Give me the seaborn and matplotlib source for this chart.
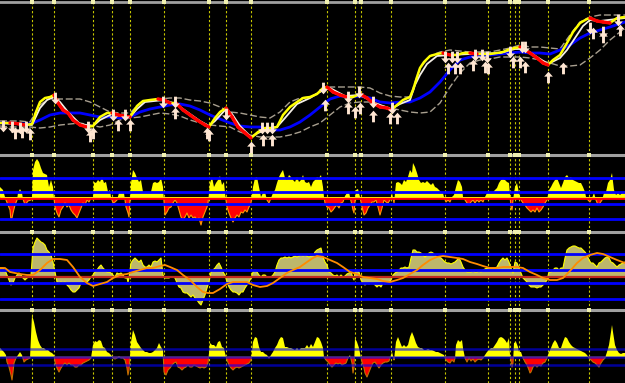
import numpy as np
import pandas as pd
import matplotlib
matplotlib.use("Agg")
import matplotlib.pyplot as plt
from matplotlib.path import Path
import seaborn as sns

sns.set_theme(style="dark", rc={"axes.facecolor": "black", "figure.facecolor": "black",
                                "axes.grid": False})

# ---------------- data ----------------
signal_x = [32, 54, 93, 112, 130, 164, 209, 226, 251, 327, 355, 361, 391, 445, 488, 510, 515, 519, 548, 589]

fast_x = [0, 10, 20, 25, 32, 36, 40, 45, 50, 54,
          58, 63, 68, 73, 80, 87, 93, 100, 107, 112,
          118, 125, 130, 137, 143, 150, 158, 164, 170, 176,
          183, 190, 197, 205, 209, 215, 220, 226, 232, 238,
          245, 251, 258, 265, 272, 277, 283, 290, 297, 303,
          310, 317, 323, 327, 333, 340, 347, 353, 360, 367,
          373, 380, 387, 391, 397, 403, 410, 413, 417, 420,
          424, 430, 437, 443, 450, 457, 463, 470, 477, 483,
          490, 497, 503, 510, 515, 520, 525, 530, 537, 543,
          548, 553, 560, 567, 573, 580, 587, 590, 597, 603,
          610, 617, 625]
fast_v = [32, 32, 31, 30, 31, 43, 53, 57, 58, 60,
          52, 45, 42, 35, 30, 28, 29, 38, 42, 42,
          40, 39, 38, 49, 54, 55, 56, 55, 52, 52,
          45, 40, 35, 30, 28, 37, 43, 47, 38, 28,
          22, 17, 23, 27, 27, 28, 40, 48, 53, 57,
          58, 61, 67, 68, 63, 60, 58, 58, 61, 57,
          52, 48, 47, 45, 50, 55, 58, 65, 78, 87,
          93, 99, 101, 102, 100, 100, 102, 102, 101, 101,
          101, 102, 103, 106, 107, 108, 105, 102, 97, 92,
          90, 95, 100, 112, 123, 132, 136, 137, 134, 133,
          132, 137, 138]

slow_x = [0, 32, 40, 47, 54, 60, 68, 80, 93, 100,
          112, 130, 137, 145, 164, 176, 190, 200, 209, 215,
          226, 232, 240, 251, 258, 270, 277, 285, 297, 310,
          323, 330, 345, 360, 375, 391, 400, 410, 415, 420,
          427, 437, 450, 470, 500, 515, 525, 537, 548, 560,
          567, 575, 583, 590, 600, 625]
slow_v = [32, 30, 47, 55, 58, 53, 43, 31, 29, 35,
          41, 38, 46, 53, 55, 51, 41, 34, 29, 34,
          46, 41, 29, 18, 22, 27, 28, 37, 51, 57,
          65, 67, 59, 60, 52, 46, 51, 55, 70, 80,
          91, 99, 100, 101, 102, 106, 106, 98, 91, 97,
          105, 117, 129, 135, 134, 137]

ma_x = list(range(0, 620, 10)) + [625]
ma_v = [32, 32, 31, 31, 35, 40, 42, 42, 42, 40,
        38, 38, 37, 38, 43, 46, 48, 50, 51, 49,
        45, 40, 36, 32, 29, 28, 28, 25, 25, 28,
        33, 40, 48, 56, 59, 58, 59, 57, 53, 52,
        53, 53, 57, 63, 73, 85, 95, 98, 99, 100,
        101, 102, 103, 102, 102, 101, 105, 110, 117, 122,
        125, 128, 133]
upper_v = [34, 34, 34, 33, 50, 57, 56, 56, 56, 53,
           48, 43, 42, 42, 52, 55, 56, 57, 57, 55,
           54, 52, 48, 43, 42, 40, 38, 37, 43, 53,
           57, 58, 63, 68, 68, 68, 68, 67, 62, 59,
           58, 58, 87, 99, 103, 105, 104, 103, 103, 103,
           105, 107, 110, 108, 108, 107, 106, 120, 133, 138,
           140, 140, 140]
lower_v = [29, 28, 28, 28, 27, 28, 30, 31, 32, 30,
           28, 30, 35, 37, 38, 40, 42, 41, 39, 35,
           32, 30, 29, 28, 23, 20, 18, 18, 18, 20,
           23, 28, 32, 40, 48, 52, 53, 53, 50, 47,
           45, 43, 42, 43, 52, 68, 82, 92, 95, 96,
           98, 98, 98, 97, 95, 92, 89, 89, 90, 97,
           105, 115, 127]

down_x = [3, 12, 20, 26, 55, 88, 113, 125, 163, 175, 226, 262, 267, 272, 323, 348, 359, 373, 392, 445,
          452, 457, 475, 482, 487, 510, 522, 525, 590, 603, 618]
down_v = [29, 28, 27, 28, 57, 28, 40, 40, 53, 53, 41, 27, 27, 27, 67, 58, 63, 53, 47, 98,
          98, 98, 100, 100, 98, 103, 108, 108, 127, 123, 135]
up_x = [15, 22, 30, 90, 93, 118, 130, 175, 207, 209, 251, 263, 272, 325, 348, 355, 360, 373, 390, 397,
        448, 455, 460, 473, 485, 488, 513, 520, 525, 548, 563, 593, 603, 620]
up_v = [22, 23, 21, 19, 22, 30, 30, 42, 22, 20, 8, 15, 15, 50, 47, 43, 47, 39, 37, 37,
        87, 87, 87, 90, 88, 87, 93, 93, 88, 78, 87, 122, 118, 125]

# oscillator 1 (histogram)
osc1_x = [0, 3, 5, 6, 8, 10, 11, 12, 13, 15,
          17, 18, 20, 22, 23, 25, 28, 31, 32, 33,
          35, 37, 39, 41, 43, 45, 47, 49, 51, 53,
          54, 55, 57, 59, 61, 63, 65, 67, 69, 71,
          73, 75, 77, 79, 81, 83, 85, 87, 89, 91,
          93, 94, 96, 98, 100, 102, 104, 106, 108, 110,
          111, 113, 115, 117, 119, 122, 124, 126, 128, 129,
          131, 133, 135, 137, 139, 141, 143, 145, 147, 149,
          151, 153, 155, 157, 159, 161, 163, 165, 167, 169,
          171, 173, 175, 177, 179, 181, 183, 185, 187, 189,
          191, 193, 195, 197, 199, 201, 203, 205, 207, 208,
          210, 212, 214, 216, 218, 220, 222, 224, 225, 227,
          229, 231, 233, 235, 237, 239, 241, 243, 245, 247,
          249, 251, 253, 255, 257, 259, 261, 263, 265, 267,
          269, 271, 273, 275, 277, 279, 281, 283, 285, 287,
          289, 291, 293, 295, 297, 299, 301, 303, 305, 307,
          309, 311, 313, 315, 317, 319, 321, 323, 324, 325,
          327, 329, 331, 333, 335, 337, 339, 341, 343, 345,
          347, 349, 350, 352, 353, 354, 356, 358, 360, 362,
          364, 366, 368, 370, 372, 374, 376, 378, 380, 382,
          384, 386, 388, 390, 392, 394, 396, 398, 400, 402,
          404, 406, 408, 410, 412, 413, 415, 417, 419, 421,
          423, 425, 427, 429, 431, 433, 435, 437, 439, 441,
          443, 444, 446, 448, 450, 452, 454, 456, 458, 460,
          462, 463, 465, 467, 469, 471, 473, 475, 477, 479,
          481, 483, 485, 487, 489, 491, 493, 495, 497, 499,
          501, 503, 505, 507, 509, 511, 512, 513, 515, 517,
          519, 521, 523, 525, 527, 529, 531, 533, 535, 537,
          539, 541, 543, 545, 547, 549, 551, 553, 555, 557,
          559, 561, 563, 565, 567, 569, 571, 573, 575, 577,
          579, 581, 583, 585, 586, 588, 590, 592, 594, 596,
          598, 600, 602, 604, 606, 608, 610, 612, 614, 616,
          618, 620, 622, 625]
osc1_v = [11, 8, 1, -2, -7, -12, -22, -20, -15, -7,
          -2, 5, 9, 5, -1, -7, -3, -2, 0, 28,
          36, 39, 36, 30, 25, 24, 23, 11, 18, 11,
          0, -9, -15, -19, -12, -9, -5, -9, -7, -12,
          -15, -17, -20, -15, -10, -5, -7, -2, -4, 0,
          -1, 16, 15, 18, 16, 21, 15, 16, 6, 8,
          1, -5, -4, -2, 5, 5, 5, -9, -15, -19,
          15, 28, 25, 20, 16, 18, 6, 5, 5, 5,
          6, 15, 16, 15, 16, 20, 11, -17, -14, -10,
          -9, -5, -2, -5, -12, -19, -22, -19, -15, -20,
          -17, -20, -19, -22, -20, -27, -19, -14, -9, -5,
          15, 21, 11, 15, 18, 22, 13, 16, 5, -9,
          -15, -20, -24, -20, -17, -19, -14, -15, -12, -14,
          -9, -5, 11, 20, 21, 11, 1, 5, 6, -2,
          -5, 0, 5, 8, 15, 21, 25, 28, 20, 18,
          23, 21, 18, 16, 21, 16, 18, 23, 16, 15,
          16, 11, 16, 18, 21, 20, 23, 11, 1, -5,
          -9, -10, -14, -12, -9, -7, -10, -5, -4, 2,
          5, 6, 1, -7, -12, -15, 8, 9, 1, -9,
          -17, -15, -10, -7, -4, -4, -2, -9, -17, -10,
          -2, -4, -5, -2, 5, -5, 15, 16, 15, 13,
          18, 16, 21, 28, 25, 35, 31, 25, 18, 15,
          16, 15, 17, 15, 13, 15, 11, 10, 8, 6,
          5, 1, -4, -2, -4, 1, 3, 11, 18, 16,
          11, 1, -2, -5, -7, -4, -2, -5, -2, -4,
          -2, -4, 1, 5, 5, 6, 6, 8, 10, 15,
          18, 19, 18, 16, 15, -9, -12, -2, 11, 15,
          5, -2, -5, -7, -10, -12, -14, -12, -14, -10,
          -14, -12, -9, -5, -2, 8, 11, 15, 18, 20,
          15, 10, 15, 21, 23, 20, 21, 18, 17, 16,
          15, 15, 11, 6, 1, -2, -4, 0, 5, -2,
          -7, -5, -2, 5, 6, 15, 18, 25, 8, 3,
          5, 3, 5, 5]
osc1_levels = [20.5, 5.6, -5.7, -20.7]

# oscillator 2 (area + signal)
osc2_x = [0, 3, 5, 7, 9, 11, 13, 15, 17, 19,
          21, 23, 25, 27, 29, 31, 33, 35, 37, 39,
          41, 43, 45, 47, 49, 51, 53, 55, 57, 59,
          61, 63, 65, 67, 69, 71, 73, 75, 77, 79,
          81, 83, 85, 87, 89, 91, 93, 95, 97, 99,
          101, 103, 105, 107, 109, 111, 113, 115, 117, 119,
          121, 123, 125, 127, 128, 129, 131, 133, 135, 137,
          139, 141, 143, 145, 147, 149, 151, 153, 155, 157,
          159, 161, 163, 165, 167, 169, 171, 173, 175, 177,
          179, 181, 183, 185, 187, 189, 191, 193, 195, 197,
          199, 201, 203, 205, 207, 209, 211, 213, 215, 217,
          219, 221, 223, 225, 227, 229, 231, 233, 235, 237,
          239, 241, 243, 245, 247, 249, 251, 253, 255, 257,
          259, 261, 263, 265, 267, 269, 271, 273, 275, 277,
          279, 281, 283, 285, 287, 289, 291, 293, 295, 297,
          299, 301, 303, 305, 307, 309, 311, 313, 315, 317,
          319, 321, 323, 325, 327, 329, 331, 333, 335, 337,
          339, 341, 343, 345, 347, 349, 351, 353, 354, 355,
          357, 359, 361, 363, 365, 367, 369, 371, 373, 375,
          377, 379, 381, 383, 385, 387, 389, 391, 393, 395,
          397, 399, 401, 403, 405, 407, 409, 411, 413, 415,
          417, 419, 421, 423, 425, 427, 429, 431, 433, 435,
          437, 439, 441, 443, 445, 447, 449, 451, 453, 455,
          457, 459, 461, 463, 465, 467, 469, 471, 473, 475,
          477, 479, 481, 483, 485, 487, 489, 491, 493, 495,
          497, 499, 501, 503, 505, 507, 509, 511, 513, 515,
          517, 519, 521, 523, 525, 527, 529, 531, 533, 535,
          537, 539, 541, 543, 545, 547, 549, 551, 553, 555,
          557, 559, 561, 563, 565, 567, 569, 571, 573, 575,
          577, 579, 581, 583, 585, 587, 589, 591, 593, 595,
          597, 599, 601, 603, 605, 607, 609, 611, 613, 615,
          617, 619, 621, 623, 625]
osc2_v = [9, 9, 7, 2, -3, -8, -6, -1, 2, 4,
          2, -1, -3, -1, 0, 2, 29, 35, 39, 37,
          35, 34, 32, 27, 25, 22, 15, 5, -5, -6,
          -5, -6, -5, -8, -10, -13, -15, -15, -13, -11,
          -6, -5, -6, -5, -3, 0, 2, 5, 7, 10,
          12, 9, 7, 5, 5, 4, 2, 0, 4, 3,
          4, 2, -1, -1, -5, -1, 14, 17, 19, 17,
          15, 17, 12, 10, 10, 12, 10, 15, 16, 15,
          17, 19, 2, -1, -1, -1, 0, 0, -1, -6,
          -10, -11, -15, -16, -16, -18, -20, -18, -21, -23,
          -26, -28, -23, -18, -11, -5, 5, 7, 9, 12,
          14, 10, 5, 2, -5, -10, -13, -15, -15, -16,
          -18, -15, -15, -11, -8, -5, -1, 5, 7, 5,
          2, 0, 2, 2, 0, 0, 0, 2, 5, 12,
          17, 19, 19, 20, 19, 20, 19, 20, 21, 20,
          21, 22, 21, 22, 21, 20, 21, 21, 25, 27,
          28, 29, 20, 15, 12, 5, 4, 2, 1, 2,
          0, 2, 0, 1, 3, 4, 5, -1, -3, 5,
          7, 5, -3, -6, -8, -6, -7, -6, -6, -8,
          -10, -8, -10, -6, -7, -6, -5, -3, 2, 4,
          5, 7, 9, 9, 10, 9, 10, 19, 27, 27,
          25, 25, 24, 22, 20, 22, 24, 25, 24, 22,
          20, 20, 19, 17, 15, 14, 14, 13, 14, 15,
          17, 19, 15, 10, 7, 5, 5, 5, 6, 5,
          5, 6, 5, 7, 8, 9, 9, 9, 9, 9,
          10, 14, 17, 19, 17, 19, 15, 9, 4, 15,
          14, 9, 4, -1, -3, -5, -8, -10, -10, -10,
          -11, -10, -10, -8, -6, -3, 5, 5, 7, 9,
          9, 7, 9, 9, 19, 27, 29, 30, 31, 31,
          30, 29, 29, 27, 25, 22, 17, 14, 14, 12,
          10, 14, 15, 17, 19, 20, 19, 15, 14, 12,
          10, 12, 13, 14, 15]
sig_x = [0, 5, 10, 15, 20, 27, 33, 40, 47, 53,
         60, 67, 73, 80, 87, 93, 100, 107, 113, 120,
         127, 133, 140, 147, 153, 160, 165, 170, 177, 183,
         190, 197, 203, 208, 213, 220, 227, 233, 240, 247,
         253, 260, 267, 273, 280, 287, 293, 300, 307, 313,
         317, 323, 330, 337, 343, 350, 357, 363, 370, 377,
         383, 390, 397, 403, 410, 417, 423, 430, 437, 443,
         450, 457, 463, 470, 477, 483, 490, 497, 503, 510,
         517, 523, 530, 537, 543, 550, 557, 563, 570, 577,
         583, 590, 597, 603, 610, 617, 625]
sig_v = [9, 9, 5, 4, 3, 2, 2, 7, 14, 18,
         18, 17, 10, 0, -6, -9, -7, -5, -1, 2,
         3, 5, 7, 9, 9, 11, 12, 10, 7, 2,
         -3, -10, -15, -16, -16, -12, -7, -5, -5, -5,
         -8, -10, -9, -6, -1, 4, 7, 10, 15, 19,
         21, 20, 17, 14, 10, 5, 3, 0, -1, -2,
         -4, -5, -3, -1, 3, 7, 12, 17, 20, 21,
         20, 19, 18, 15, 13, 11, 9, 9, 10, 10,
         10, 9, 5, 2, -1, -3, -3, -1, 6, 14,
         19, 22, 24, 23, 20, 17, 14]
osc2_levels = [23.3, 7.3, -5.7, -21.7]

# oscillator 3 (histogram)
osc3_x = [0, 2, 4, 6, 7, 9, 11, 12, 13, 14,
          16, 18, 20, 22, 24, 26, 28, 30, 32, 34,
          36, 38, 40, 42, 44, 46, 48, 50, 52, 54,
          55, 57, 59, 61, 63, 65, 67, 69, 71, 73,
          75, 77, 79, 81, 83, 85, 87, 89, 91, 93,
          95, 97, 99, 101, 103, 105, 107, 109, 111, 113,
          115, 117, 119, 121, 123, 125, 127, 128, 129, 131,
          133, 135, 137, 139, 141, 143, 145, 147, 149, 151,
          153, 155, 157, 159, 161, 163, 164, 166, 168, 170,
          172, 174, 176, 178, 180, 182, 184, 186, 188, 190,
          192, 194, 196, 198, 200, 202, 204, 206, 208, 210,
          212, 214, 216, 218, 220, 222, 224, 225, 227, 229,
          231, 233, 235, 237, 239, 241, 243, 245, 247, 249,
          251, 253, 255, 257, 259, 261, 263, 265, 267, 269,
          271, 273, 275, 277, 279, 281, 283, 285, 287, 289,
          291, 293, 295, 297, 299, 301, 303, 305, 307, 309,
          311, 313, 315, 317, 319, 321, 323, 324, 326, 328,
          330, 332, 334, 336, 338, 340, 342, 344, 346, 348,
          350, 352, 353, 354, 355, 357, 359, 360, 362, 364,
          365, 367, 369, 371, 373, 375, 377, 379, 381, 383,
          385, 387, 389, 390, 392, 394, 396, 398, 400, 402,
          404, 406, 408, 410, 412, 414, 416, 418, 420, 422,
          424, 426, 428, 430, 432, 434, 436, 438, 440, 442,
          444, 446, 448, 450, 452, 454, 455, 456, 458, 460,
          462, 463, 465, 467, 469, 471, 473, 475, 477, 479,
          481, 483, 485, 487, 489, 491, 493, 495, 497, 499,
          501, 503, 505, 507, 509, 510, 511, 512, 513, 514,
          516, 518, 519, 521, 522, 523, 525, 527, 529, 530,
          531, 533, 535, 537, 539, 541, 543, 545, 547, 549,
          551, 553, 555, 557, 559, 561, 563, 565, 567, 569,
          571, 573, 575, 577, 579, 581, 583, 585, 587, 589,
          591, 593, 595, 597, 599, 601, 603, 605, 607, 609,
          611, 612, 613, 615, 617, 619, 621, 623, 625]
osc3_v = [9, 7, 5, 2, -5, -10, -18, -23, -15, -6,
          -1, 2, 5, 2, -5, -3, -2, -1, 42, 35,
          25, 17, 12, 9, 9, 7, 7, 5, 4, 2,
          -5, -11, -15, -11, -8, -6, -8, -6, -8, -8,
          -10, -10, -8, -8, -6, -5, -4, -3, -1, 12,
          16, 15, 17, 16, 10, 9, 5, 4, 2, -1,
          -2, -1, 0, -1, -1, -3, -11, -18, -13, 15,
          27, 22, 15, 12, 9, 7, 5, 5, 4, 4,
          5, 7, 9, 14, 10, 7, -15, -18, -13, -11,
          -8, -6, -5, -10, -11, -13, -11, -10, -8, -10,
          -10, -8, -9, -10, -11, -10, -11, -10, -6, 14,
          12, 12, 10, 15, 16, 10, 9, 4, -3, -8,
          -11, -13, -11, -10, -11, -10, -9, -8, -7, -6,
          -3, 15, 20, 19, 10, 5, 5, 3, 2, -1,
          2, 5, 9, 12, 17, 20, 19, 10, 10, 9,
          9, 8, 7, 9, 7, 9, 9, 9, 12, 9,
          13, 10, 15, 20, 19, 15, 9, 0, -3, -5,
          -8, -10, -8, -6, -7, -6, -8, -7, -6, -1,
          2, -6, -16, -11, 19, 15, 9, 4, -5, -11,
          -16, -20, -15, -10, -6, -5, -8, -11, -8, -6,
          -5, -5, -4, -1, 5, -3, 15, 20, 15, 10,
          12, 10, 12, 20, 25, 20, 14, 10, 9, 9,
          7, 7, 8, 7, 7, 6, 5, 5, 4, 3,
          2, -3, -5, -6, -3, -5, -1, 12, 17, 15,
          17, 9, -1, -5, -1, -4, -2, -5, -3, -2,
          -3, -1, 2, 5, 7, 9, 9, 12, 15, 19,
          20, 19, 17, 14, 19, 2, -3, -10, -6, 14,
          15, 10, 5, 5, 2, -1, -5, -8, -13, -16,
          -15, -10, -8, -10, -8, -9, -6, -5, -1, 5,
          9, 14, 17, 14, 9, 9, 15, 20, 19, 15,
          12, 10, 9, 8, 7, 6, 5, 4, 2, -1,
          -3, -5, -6, -8, -10, -6, -3, -1, 5, 12,
          25, 32, 25, 12, 7, 4, 3, 4, 4]
osc3_levels = [8.3, 0, -8.0]

# ---------------- figure ----------------
W, H = 625, 383
fig = plt.figure(figsize=(6.25, 3.83), dpi=100)
fig.patch.set_facecolor("black")


def add_panel(top, bottom, ylim, spine_lw=2.2):
    ax = fig.add_axes([0, (H - bottom) / H, 1, (bottom - top) / H])
    ax.set_facecolor("black")
    ax.set_xlim(0, 625)
    ax.set_ylim(*ylim)
    ax.set_xticks([])
    ax.set_yticks([])
    for s in ["left", "right", "bottom"]:
        ax.spines[s].set_visible(False)
    ax.spines["top"].set_color("#A0A0A0")
    ax.spines["top"].set_linewidth(spine_lw)
    ax.spines["top"].set_zorder(20)
    for sx in signal_x:
        ax.axvline(sx, color="#C8C800", lw=0.8, ls=(0, (2, 2)), zorder=0.5)
    # small markers where the signal lines meet the panel top
    ax.scatter(signal_x, [ylim[1]] * len(signal_x), marker="s", s=5,
               color="#F0F0B0", linewidths=0, clip_on=False, zorder=21)
    return ax


ax1 = add_panel(1.5, 155, (0, 153.5), spine_lw=2.0)
ax2 = add_panel(155, 232, (-34, 43))
ax3 = add_panel(232, 309.5, (-32.5, 45))
ax4 = add_panel(309.5, 383, (-26, 47.5))

# ---- panel 1: price ----
env = pd.DataFrame({"x": ma_x, "ma": ma_v, "up": upper_v, "lo": lower_v})
for col in ["up", "lo"]:
    sns.lineplot(data=env, x="x", y=col, ax=ax1, color="#A89F8F", lw=1.0,
                 estimator=None, sort=False, zorder=2)
    ax1.lines[-1].set_dashes([5, 2])
sns.lineplot(data=env, x="x", y="ma", ax=ax1, color="#0000FF", lw=2.0,
             estimator=None, sort=False, zorder=3)
slow = pd.DataFrame({"x": slow_x, "v": slow_v})
sns.lineplot(data=slow, x="x", y="v", ax=ax1, color="#F5F0E6", lw=1.3,
             estimator=None, sort=False, zorder=4)
fast = pd.DataFrame({"x": fast_x, "v": fast_v})
sns.lineplot(data=fast, x="x", y="v", ax=ax1, color="#FFFF00", lw=1.8,
             estimator=None, sort=False, zorder=5)
for i in range(len(fast_x) - 1):
    if fast_v[i + 1] < fast_v[i]:
        ax1.plot(fast_x[i:i + 2], fast_v[i:i + 2], color="#FF0000", lw=2.4,
                 solid_capstyle="round", zorder=6)

up_path = Path([(0, 1), (-0.75, 0.15), (-0.25, 0.15), (-0.25, -1), (0.25, -1),
                (0.25, 0.15), (0.75, 0.15), (0, 1)],
               [Path.MOVETO] + [Path.LINETO] * 6 + [Path.CLOSEPOLY])
down_path = Path([(x, -y) for x, y in up_path.vertices], up_path.codes)
sns.scatterplot(x=up_x, y=up_v, ax=ax1, marker=up_path, s=70, color="#FFE6D2",
                linewidth=0, zorder=7)
sns.scatterplot(x=down_x, y=down_v, ax=ax1, marker=down_path, s=70, color="#FFE6D2",
                linewidth=0, zorder=7)
ax1.set_xlim(0, 625); ax1.set_ylim(0, 153.5)

# ---- panel 2 ----
x2 = np.array(osc1_x, float); v2 = np.array(osc1_v, float)
ax2.fill_between(x2, v2, 0, where=v2 >= 0, interpolate=True, color="#FFFF00", lw=0, zorder=2)
ax2.fill_between(x2, v2, 0, where=v2 <= 0, interpolate=True, facecolor="#FF0000",
                 edgecolor="#FF9900", lw=0.8, zorder=2)
for lv in osc1_levels:
    ax2.axhline(lv, color="#0000FF", lw=2.0, zorder=3)
ax2.axhline(0, color="#FF0000", lw=2.0, zorder=4)
ax2.axhline(0.9, color="#FFFF00", lw=0.6, zorder=4)

# ---- panel 3 ----
x3 = np.array(osc2_x, float); v3 = np.array(osc2_v, float)
ax3.fill_between(x3, v3, 0, color="#BDB76B", lw=0, zorder=2)
sns.lineplot(x=osc2_x, y=osc2_v, ax=ax3, color="#FFFF00", lw=0.8,
             estimator=None, sort=False, zorder=3)
for lv in osc2_levels:
    ax3.axhline(lv, color="#0000FF", lw=2.0, zorder=4)
ax3.axhline(0, color="#C0281E", lw=1.6, zorder=4)
sns.lineplot(x=sig_x, y=sig_v, ax=ax3, color="#FF8C00", lw=1.3,
             estimator=None, sort=False, zorder=5)
ax3.set_xlim(0, 625); ax3.set_ylim(-32.5, 45)

# ---- panel 4 ----
x4 = np.array(osc3_x, float); v4 = np.array(osc3_v, float)
ax4.fill_between(x4, v4, 0, where=v4 >= 0, interpolate=True, color="#FFFF00", lw=0, zorder=2)
ax4.fill_between(x4, v4, 0, where=v4 <= 0, interpolate=True, facecolor="#FF0000",
                 edgecolor="#C07000", lw=0.8, zorder=2)
for lv in osc3_levels:
    ax4.axhline(lv, color="#0000FF", lw=1.8, zorder=3, alpha=0.6)

for ax in (ax1, ax2, ax3, ax4):
    ax.set_xlabel(""); ax.set_ylabel("")
    if ax.get_legend() is not None:
        ax.get_legend().remove()

fig.savefig("out.png", dpi=100, facecolor="black")
